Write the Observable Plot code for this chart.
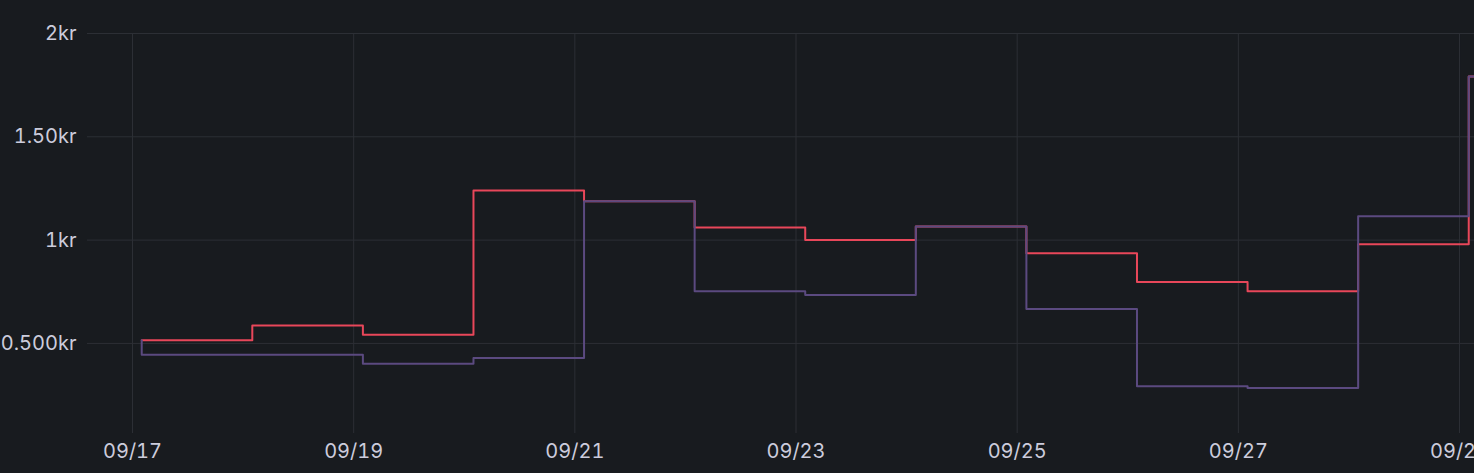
<!DOCTYPE html>
<html>
<head>
<meta charset="utf-8">
<script src="https://cdn.jsdelivr.net/npm/d3@7"></script>
<script src="https://cdn.jsdelivr.net/npm/@observablehq/plot@0.6"></script>
<style>
html, body { margin: 0; padding: 0; background: #181b1f; overflow: hidden; }
#chart svg { display: block; }
</style>
</head>
<body>
<div id="chart"></div>
<script>
// Step boundaries (each value holds until the date on its row; first row is series start)
const stepDates = [
  "2023-09-17T02:00", "2023-09-18T02:00", "2023-09-19T02:00", "2023-09-20T02:00",
  "2023-09-21T02:00", "2023-09-22T02:00", "2023-09-23T02:00", "2023-09-24T02:00",
  "2023-09-25T02:00", "2023-09-26T02:00", "2023-09-27T02:00", "2023-09-28T02:00",
  "2023-09-29T02:00", "2023-09-30T02:00"
];
const redValues    = [0.515, 0.515, 0.587, 0.542, 1.240, 1.188, 1.061, 1.000, 1.066, 0.937, 0.797, 0.753, 0.980, 1.792];
const purpleValues = [0.515, 0.445, 0.445, 0.401, 0.429, 1.188, 0.753, 0.734, 1.066, 0.666, 0.293, 0.284, 1.116, 1.792];

const xTickDates  = ["2023-09-17", "2023-09-19", "2023-09-21", "2023-09-23", "2023-09-25", "2023-09-27", "2023-09-29"];
const xTickLabels = ["09/17", "09/19", "09/21", "09/23", "09/25", "09/27", "09/29"];
const yTicks      = [0.5, 1, 1.5, 2];
const yTickLabels = ["0.500kr", "1kr", "1.50kr", "2kr"];

const xDomain = [new Date("2023-09-16T14:14"), new Date("2023-09-29T03:15")];
const yDomain = [0.064, 2];

const parse = s => new Date(s);
const redData = stepDates.map((d, i) => ({date: parse(d), value: redValues[i]}));
const purpleData = stepDates.map((d, i) => ({date: parse(d), value: purpleValues[i]}));
const xTicks = xTickDates.map(d => new Date(d + "T00:00"));
const xLabelMap = new Map(xTicks.map((d, i) => [+d, xTickLabels[i]]));
const yLabelMap = new Map(yTicks.map((v, i) => [v, yTickLabels[i]]));

const gridColor = "#2c2f35";

const chart = Plot.plot({
  width: 1474,
  height: 473,
  marginLeft: 87,
  marginRight: 0,
  marginTop: 33,
  marginBottom: 40,
  style: {
    background: "#181b1f",
    color: "#ccccdc",
    fontFamily: "Inter, Roboto, sans-serif",
    fontSize: "20px",
    overflow: "hidden"
  },
  x: {
    type: "time",
    domain: xDomain,
    ticks: xTicks,
    tickFormat: d => xLabelMap.get(+d) ?? "",
    tickSize: 0,
    tickPadding: 10,
    label: null
  },
  y: {
    domain: yDomain,
    ticks: yTicks,
    tickFormat: v => yLabelMap.get(v) ?? "",
    tickSize: 0,
    tickPadding: 11,
    label: null
  },
  marks: [
    Plot.ruleX(xTicks, {x: d => d, stroke: gridColor, strokeWidth: 1}),
    Plot.ruleY(yTicks, {y: d => d, stroke: gridColor, strokeWidth: 1}),
    Plot.line(redData, {x: "date", y: "value", curve: "step-before", stroke: "#e8475a", strokeWidth: 2, clip: true}),
    Plot.line(purpleData, {x: "date", y: "value", curve: "step-before", stroke: "#5b4a80", strokeWidth: 2, clip: true})
  ]
});
document.getElementById("chart").appendChild(chart);
</script>
</body>
</html>
